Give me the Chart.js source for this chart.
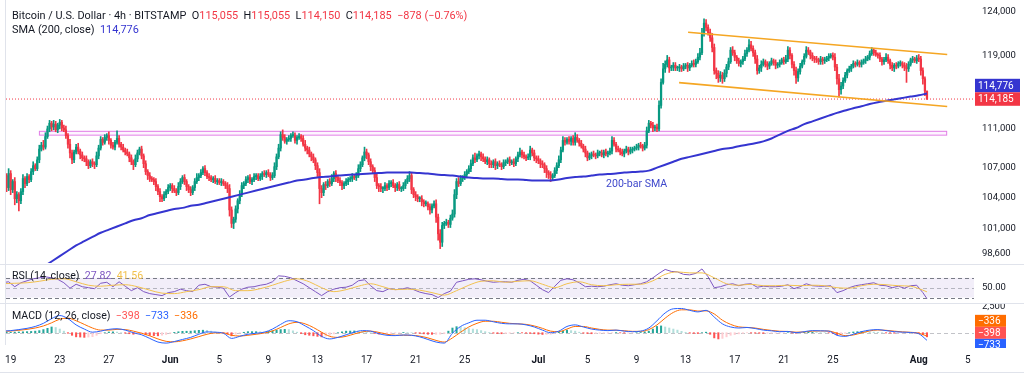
<!DOCTYPE html>
<html><head><meta charset="utf-8">
<script src="https://cdn.jsdelivr.net/npm/chart.js@4/dist/chart.umd.min.js"></script>
<style>
html,body{margin:0;padding:0;background:#fff;}
#wrap{position:relative;width:1024px;height:377px;overflow:hidden;font-family:Roboto,"Noto Sans",sans-serif;color:#131722;}
.cv{position:absolute;left:0;}
.txt{position:absolute;white-space:nowrap;font-size:10.6px;line-height:12px;}
.hdr{font-size:10.9px;}
.sep{position:absolute;left:0;width:1024px;height:1px;background:#e0e3eb;}
.r{color:#f23645}
</style></head><body>
<div id="wrap">
  <canvas id="cMain" class="cv" style="top:0" width="1024" height="264"></canvas>
  <canvas id="cRsi" class="cv" style="top:264px" width="1024" height="39"></canvas>
  <canvas id="cMacd" class="cv" style="top:303px" width="1024" height="74"></canvas>
  <div class="sep" style="top:264px"></div>
  <div class="sep" style="top:303px"></div>
  <div class="sep" style="top:372px"></div>
  <div class="sep" style="top:0;left:5px;width:1px;height:345px"></div>
  <div class="txt hdr" style="left:12px;top:10px">Bitcoin / U.S. Dollar · 4h · BITSTAMP&nbsp; O<span class="r">115,055</span>&nbsp; H<span class="r">115,055</span>&nbsp; L<span class="r">114,150</span>&nbsp; C<span class="r">114,185</span>&nbsp; <span class="r">−878 (−0.76%)</span></div>
  <div class="txt hdr" style="left:12px;top:24px">SMA (200, close)&nbsp; <span style="color:#3535d0">114,776</span></div>
  <div class="txt" style="left:606px;top:178px;color:#3f48cc">200-bar SMA</div>
  <div class="txt" style="left:12px;top:270px">RSI (14, close)&nbsp; <span style="color:#7e57c2">27.82</span>&nbsp; <span style="color:#f2c14e">41.56</span></div>
  <div class="txt" style="left:12px;top:310px">MACD (12, 26, close)&nbsp; <span style="color:#ff5252">−398</span>&nbsp; <span style="color:#2962ff">−733</span>&nbsp; <span style="color:#ff6d00">−336</span></div>
</div>
<script>
// ---- price data (4h candles, thousands of USD), first bar = May 18 08:00 ----
const firstOpenK = 105.0;
const closeK = [
105.4,106.2,105.0,106.4,104.8,105.6,103.9,104.3,103.7,104.6,
105.9,105.4,106.1,105.8,106.6,107.2,106.9,107.8,108.9,109.3,
109.1,110.2,111.0,111.6,111.2,111.5,110.9,111.4,111.7,111.1,
110.9,110.3,109.4,108.5,107.8,108.6,109.1,108.7,108.3,108.0,
107.9,107.6,107.2,107.6,107.4,107.3,108.2,109.0,109.9,109.6,
110.1,110.3,109.8,109.3,109.1,109.6,110.0,109.4,109.1,108.8,
108.6,108.4,108.0,107.6,107.3,107.9,108.5,108.9,108.2,107.4,
106.6,106.2,105.9,105.8,105.6,105.1,104.6,104.1,103.9,104.3,
104.6,105.0,105.2,104.9,104.7,104.5,105.1,105.6,106.0,105.6,
105.1,104.8,104.5,105.0,105.6,106.0,106.2,106.5,106.9,106.5,
106.1,106.0,105.8,105.9,105.6,105.7,105.5,105.6,105.4,105.2,
104.9,102.8,101.5,101.9,102.9,103.7,104.3,105.2,105.4,105.8,
106.0,105.6,105.8,106.1,106.2,105.9,106.1,106.4,106.3,106.5,
106.3,106.0,106.2,107.1,108.1,109.0,110.4,110.1,109.7,109.9,
110.0,110.3,110.3,109.8,110.1,110.2,110.0,109.4,109.0,108.8,
108.4,108.1,107.8,107.2,106.5,104.9,104.5,105.3,105.2,105.6,
105.4,105.9,106.4,106.0,105.7,105.5,105.2,105.4,105.6,105.8,
105.9,106.1,106.0,106.2,106.9,107.3,108.0,108.6,108.3,107.6,
107.1,106.7,106.0,105.2,105.1,104.9,104.9,105.2,105.0,105.4,
105.5,105.2,105.0,105.3,104.9,104.9,105.2,105.6,105.9,106.2,
104.8,104.3,104.1,103.9,103.9,103.6,103.4,103.4,103.1,102.8,
103.2,103.4,102.1,100.5,99.7,101.3,101.5,101.6,101.4,102.0,
102.4,104.3,105.6,105.4,105.9,106.0,106.3,106.6,106.9,107.4,
108.0,107.8,108.2,108.4,108.1,107.9,107.6,107.8,107.4,107.3,
107.6,107.2,107.4,107.3,107.1,107.5,107.6,107.8,107.5,107.6,
107.4,107.9,108.3,108.6,108.3,108.1,108.0,108.1,108.8,108.5,
108.0,107.9,107.7,107.4,107.3,106.9,106.5,106.3,106.0,106.2,
106.7,107.2,107.8,108.8,109.8,109.6,109.9,109.7,110.0,109.6,
110.1,109.8,109.5,109.2,108.9,108.5,108.0,108.2,108.4,108.3,
108.2,108.5,108.5,108.3,108.6,108.4,108.5,108.7,109.8,109.4,
108.9,108.8,108.6,108.4,108.7,108.9,108.6,108.8,108.9,109.0,
109.1,109.3,109.2,109.0,109.3,110.8,111.6,111.4,111.1,111.2,
111.0,113.5,116.0,117.5,118.0,118.5,117.6,117.7,117.9,117.6,
117.6,117.7,117.5,117.8,117.9,117.6,117.9,118.1,118.0,118.3,
118.8,119.3,121.5,122.7,122.2,121.6,121.0,119.9,117.3,117.0,
116.5,116.8,116.4,117.0,117.7,118.3,119.6,119.3,118.8,118.4,
118.1,118.3,118.6,119.2,119.6,120.2,119.8,119.3,118.6,117.3,
117.6,118.0,118.3,118.0,117.8,118.1,118.4,118.2,117.9,118.0,
118.2,118.5,118.3,118.6,119.6,119.0,118.0,117.3,116.5,117.2,
117.8,118.3,118.9,119.6,119.4,119.0,118.7,118.6,118.5,118.3,
118.6,118.4,118.5,118.7,118.9,119.0,118.8,117.7,116.4,115.2,
115.6,116.2,116.8,117.3,117.5,117.8,118.1,118.0,118.2,118.0,
118.2,118.4,118.6,118.8,119.2,119.6,119.3,119.1,119.0,118.6,
118.3,118.5,118.8,118.4,117.9,117.6,117.9,117.8,118.1,118.1,
117.9,117.7,117.5,118.0,118.5,118.6,118.4,118.7,118.6,117.3,
116.4,115.055,114.185];
// wick above / below the body, in $100
const wickUp = [
3,4,2,5,3,2,4,3,2,3, 4,2,3,2,3,4,2,3,4,3, 5,4,3,3,2,4,3,2,3,2, 3,4,2,5,3,2,3,4,2,3,
2,3,2,2,3,2,4,3,3,2, 3,2,4,2,3,2,8,3,2,3, 2,3,2,3,2,4,3,2,3,2, 3,2,3,2,2,3,2,3,2,3,
2,3,2,2,3,2,4,3,2,3, 2,2,3,2,3,4,2,3,2,3, 2,3,2,2,3,2,2,3,2,2, 3,4,3,2,3,2,4,3,2,3,
2,3,2,3,2,2,3,2,3,2, 3,2,3,4,3,4,3,5,3,2, 3,2,4,3,2,3,2,3,4,2, 3,2,3,2,3,4,3,2,3,2,
3,4,2,3,2,3,2,2,3,2, 2,3,2,3,4,3,2,5,3,2, 3,2,3,4,2,3,2,3,2,3, 2,3,2,2,3,2,3,2,3,4,
3,2,3,2,2,3,2,3,2,3, 2,3,4,3,4,3,2,3,2,3, 4,5,3,4,3,2,3,2,3,4, 3,5,2,3,2,3,2,3,2,3,
2,3,2,3,2,3,2,2,3,2, 3,2,3,4,2,3,2,3,4,2, 3,2,3,2,3,2,3,2,3,2, 3,3,4,3,4,3,2,3,2,3,
5,3,2,3,2,3,2,3,2,3, 2,3,2,3,2,3,2,3,4,3, 2,3,2,3,2,3,2,3,2,2, 3,2,3,2,3,4,3,2,3,2,
3,5,4,6,4,5,3,2,3,3, 2,3,2,3,2,3,2,3,4,3, 4,5,6,5,4,3,4,5,4,3, 3,4,3,4,3,4,3,4,3,2,
3,2,3,4,3,6,4,3,3,4, 3,4,3,2,3,2,3,2,3,2, 3,2,3,4,4,3,2,3,4,3, 3,2,3,4,3,2,3,2,3,2,
3,2,3,2,3,2,3,4,3,5, 4,3,3,2,3,2,3,2,3,2, 3,2,3,2,3,3,2,3,2,3, 2,3,4,3,2,3,2,3,2,3,
2,3,4,3,2,3,2,3,4,3, 3,2,0];
const wickDn = [
3,2,4,3,5,3,6,4,10,3, 3,4,2,3,2,3,2,2,3,2, 3,2,2,3,4,3,2,3,4,3, 2,3,4,5,4,3,2,3,4,3,
3,4,3,2,3,4,2,3,2,3, 2,3,4,3,2,3,2,3,3,2, 3,2,4,3,5,2,3,2,3,4, 3,4,3,2,3,4,3,5,3,2,
3,2,3,4,2,3,2,3,2,3, 4,3,3,2,3,2,3,2,2,3, 2,3,2,3,2,3,2,3,2,3, 4,6,4,5,3,4,3,2,3,2,
3,2,3,2,3,2,2,3,2,3, 2,3,2,2,3,2,3,3,2,3, 2,3,2,3,4,2,3,2,3,4, 3,4,3,4,4,15,5,3,4,2,
3,2,3,4,2,3,4,3,2,3, 2,3,2,3,2,3,2,3,4,3, 4,3,4,3,5,3,4,2,3,2, 3,2,4,3,2,3,2,3,2,3,
4,3,4,3,3,4,3,2,3,4, 3,2,5,6,6,4,3,2,3,3, 2,3,4,3,2,3,2,3,2,3, 2,3,2,3,4,3,2,3,4,3,
3,4,3,2,3,2,3,2,3,2, 3,2,3,2,3,2,3,2,3,3, 3,4,3,4,3,4,5,4,4,3, 2,3,2,3,2,3,2,3,4,3,
3,2,3,2,3,4,3,2,3,2, 3,2,3,2,3,2,3,2,3,2, 3,2,3,2,3,2,3,2,3,2, 2,3,2,3,2,3,2,3,4,3,
3,2,3,2,4,3,5,3,4,3, 3,4,3,2,3,4,3,2,3,3, 2,3,2,3,4,3,4,5,4,6, 5,4,5,3,4,3,2,3,4,3,
3,4,3,2,3,2,3,4,5,4, 3,4,2,3,4,3,2,3,4,3, 3,2,3,2,3,4,4,5,6,4, 3,2,3,2,3,4,3,4,3,3,
3,4,3,2,3,2,3,4,6,8, 5,3,2,3,2,3,2,3,2,3, 3,2,3,2,3,2,3,2,3,3, 4,3,2,3,4,3,4,3,2,3,
3,4,15,3,2,3,2,3,3,5, 6,5,0.35];
// 200-bar SMA, thousands, every 4th bar
const smaK = [
95.1,95.5,96.0,96.4,96.9,97.4,97.9,98.4,98.9,99.4,
99.8,100.2,100.6,100.9,101.2,101.5,101.8,102.0,102.3,102.5,
102.7,102.9,103.0,103.2,103.3,103.5,103.7,103.9,104.1,104.3,
104.5,104.7,104.9,105.1,105.3,105.5,105.7,105.8,105.95,106.05,
106.1,106.2,106.25,106.3,106.35,106.4,106.45,106.5,106.5,106.5,
106.5,106.45,106.4,106.3,106.25,106.2,106.1,106.0,105.95,105.9,
105.9,105.85,105.8,105.8,105.75,105.7,105.7,105.7,105.8,105.95,
106.05,106.1,106.2,106.3,106.35,106.4,106.5,106.55,106.6,106.7,
107.0,107.3,107.6,107.9,108.1,108.3,108.5,108.7,108.9,109.0,
109.2,109.35,109.5,109.7,110.0,110.4,110.8,111.1,111.5,111.8,
112.1,112.4,112.7,112.95,113.2,113.4,113.65,113.85,114.0,114.15,
114.3,114.45,114.6,114.776];
// RSI(14), every 3rd bar, plus last bar
const rsi = [
60,62,52,60,64,68,70,72,70,67, 60,49,57,52,50,48,59,61,52,62,
53,44,50,42,38,36,34,40,42,47, 44,42,55,57,52,51,49,31,40,47,
51,52,55,57,62,74,73,70,64,58, 50,42,34,42,47,50,51,55,64,66,
54,44,42,48,46,47,50,46,41,38, 36,30,38,43,61,64,67,68,66,63,
61,62,62,61,65,67,64,55,46,40, 53,65,68,66,60,52,53,52,53,56,
58,55,54,56,58,62,70,79,87,83, 82,77,76,79,88,72,50,52,56,58,
54,57,58,51,53,52,52,53,56,48, 52,58,54,53,53,54,40,44,50,54,
56,58,60,55,54,50,53,49,54,55, 40];
const rsiLast = 27.82;
// RSI-based MA, every 6th bar, plus last bar
const rsiMa = [
58,59,60,63,67,68,62,55,53,55, 56,52,45,39,38,42,46,52,52,44,
44,48,55,63,68,62,50,42,46,53, 58,52,46,47,45,40,35,44,55,63,
64,61,63,64,57,50,58,62,56,54, 56,57,57,64,77,82,80,80,70,58,
55,57,54,54,55,54,55,54,50,49, 54,57,56,54,53,45];
const rsiMaLast = 41.56;
// MACD(12,26) line and signal, every 4th bar
const macd = [
150,200,300,420,600,900,1350,1650,1350,750,
350,50,150,320,380,250,0,-200,-550,-900,
-1000,-850,-650,-450,-150,80,50,-50,-550,-350,
-150,-50,50,350,800,1150,1050,650,200,-350,
-600,-450,-200,50,200,150,-100,-250,-280,-220,
-250,-400,-650,-900,-1000,-50,600,950,1200,1200,
1050,900,850,850,750,550,250,0,150,600,
750,550,350,250,200,250,150,100,150,450,
1150,1900,2300,2330,2150,2000,2150,1500,850,550,
450,500,400,250,180,100,120,0,100,200,
180,150,-250,-350,-150,100,250,300,200,100,
50,20,-100,-733];
const signal = [
120,160,230,320,450,650,950,1300,1400,1150,
800,450,250,250,320,300,150,-50,-300,-600,
-830,-880,-780,-600,-380,-150,-20,-20,-250,-320,
-250,-150,-30,170,500,850,1000,850,500,50,
-350,-450,-350,-120,80,150,30,-150,-240,-240,
-250,-330,-500,-740,-900,-500,50,550,900,1100,
1100,1000,900,850,800,650,420,150,100,350,
600,600,450,320,250,240,190,130,130,300,
750,1400,1950,2200,2200,2080,2100,1800,1200,800,
560,510,450,320,220,140,120,50,70,150,
170,160,-50,-280,-220,-20,170,260,230,150,
80,40,-40,-336];
// MACD histogram, every 2nd bar
const hist = [
30,35,40,55,70,85,100,120,150,200, 300,420,550,500,350,150,-50,-250,-400,-420,
-450,-420,-380,-250,-100,0,70,80,60,0, -50,-100,-150,-150,-150,-200,-250,-280,-300,-240,
-170,-70,30,90,130,140,150,190,230,240, 230,150,70,20,-30,-150,-300,-150,-30,40,
100,100,100,90,80,120,180,250,300,320, 300,180,50,-80,-200,-250,-300,-350,-400,-330,
-250,-120,0,80,150,160,170,150,120,60, 0,-70,-130,-120,-100,-70,-40,-10,20,10,
0,-40,-70,-110,-150,-160,-160,-140,-100,150, 450,580,550,480,400,350,300,200,100,20,
-50,-80,-100,-80,-50,-20,0,-20,-50,-80, -100,-140,-170,-160,-150,-50,50,150,250,200,
150,50,-50,-80,-100,-80,-70,-60,-50,-20, 10,-20,-40,-35,-30,0,20,80,150,350,
600,650,550,450,350,250,130,40,-50,-70, -80,0,50,-150,-500,-600,-550,-400,-250,-180,
-110,-60,-10,-30,-50,-60,-70,-55,-40,-40, -40,-20,0,-30,-50,-10,30,40,50,30,
10,0,-10,-80,-200,-150,-70,0,70,100, 120,100,80,60,40,0,-30,-40,-50,-40,
-30,-25,-20,-40,-60,-200,-398];
// axes
const priceTicks = [124000,119000,111000,107000,104000,101000,98600];
const rsiTicks = [50];
const macdTicks = [2500];
const xTickIdx = [4,28,52,82,106,130,154,178,202,226,262,286,310,334,358,382,406,448,472];
const xTickLabels = ["19","23","27","Jun","5","9","13","17","21","25","Jul","5","9","13","17","21","25","Aug","5"];
// drawings
const channelUpper = [[335.2,121640],[461.9,119100]];
const channelLower = [[330.8,115970],[461.9,113380]];
const resistanceZone = [17.8,461.4,110400,110800];
const lastPrice = 114185;
const smaLast = 114776;

// ---------------- chart code ----------------
Chart.defaults.font.family = 'Roboto, "Noto Sans", sans-serif';
Chart.defaults.color = '#131722';
const UP = '#089981', DOWN = '#f23645', SMA_C = '#3535d0';
const X_MIN = 1.711, X_MAX = 475.0;
const AXIS_W = 50;
const N = closeK.length;
const openK = closeK.map((c,i)=> i===0 ? firstOpenK : closeK[i-1]);
const bodies = [], wicks = [], cols = [];
for (let i=0;i<N;i++){
  const o=openK[i]*1000, c=closeK[i]*1000;
  bodies.push({x:i, y:[o,c]});
  wicks.push({x:i, y:[Math.min(o,c)-wickDn[i]*100, Math.max(o,c)+wickUp[i]*100]});
  cols.push(closeK[i]>=openK[i]?UP:DOWN);
}
const smaPts = smaK.map((v,k)=>({x:k*4, y:v*1000}));
const xHidden = {type:'linear', min:X_MIN, max:X_MAX, offset:false, display:false};
const fixW = s => { s.width = AXIS_W; s.paddingTop = 0; s.paddingBottom = 0; };
const tickFont = {size:9.5};

function box(ctx, x, yc, w, h, bg, text){
  ctx.fillStyle = bg; ctx.fillRect(x, yc-h/2, w, h);
  ctx.fillStyle = '#fff'; ctx.font = '10px Roboto, "Noto Sans", sans-serif';
  ctx.textBaseline = 'middle'; ctx.textAlign = 'left';
  ctx.fillText(text, x+3, yc+0.5);
}
const fmt = v => v.toLocaleString('en-US');

const mainPlugin = {
  id:'mainDraw',
  beforeDatasetsDraw(chart){
    const {ctx, scales:{x,y}} = chart;
    const x1=x.getPixelForValue(resistanceZone[0]), x2=x.getPixelForValue(resistanceZone[1]);
    const y1=y.getPixelForValue(resistanceZone[3]), y2=y.getPixelForValue(resistanceZone[2]);
    ctx.save();
    ctx.fillStyle='rgba(224,64,251,0.06)'; ctx.fillRect(x1,y1,x2-x1,y2-y1);
    ctx.strokeStyle='#e17ce6'; ctx.lineWidth=1; ctx.strokeRect(x1+0.5,y1+0.5,x2-x1,y2-y1);
    ctx.restore();
  },
  afterDraw(chart){
    const {ctx, chartArea:a, scales:{y}} = chart;
    const pR = y.getPixelForValue(lastPrice);
    const pB = Math.min(y.getPixelForValue(smaLast), pR-13.5);
    ctx.save();
    box(ctx, a.right+1, pB, 45, 13.5, SMA_C, fmt(smaLast));
    box(ctx, a.right+1, pR, 45, 13.5, DOWN, fmt(lastPrice));
    ctx.restore();
  }
};

new Chart(document.getElementById('cMain'), {
  type:'bar',
  data:{datasets:[
    {type:'line', data:[{x:X_MIN,y:lastPrice},{x:X_MAX,y:lastPrice}], borderColor:DOWN, borderWidth:1, borderDash:[1,2], pointRadius:0, order:5},
    {type:'bar', data:wicks, backgroundColor:cols, barThickness:1, grouped:false, order:3},
    {type:'bar', data:bodies, backgroundColor:cols, barThickness:1.6, minBarLength:1, grouped:false, order:2},
    {type:'line', data:smaPts, borderColor:SMA_C, borderWidth:2, pointRadius:0, cubicInterpolationMode:'monotone', order:1},
    {type:'line', data:channelUpper.map(p=>({x:p[0],y:p[1]})), borderColor:'#f5a623', borderWidth:1.6, pointRadius:0, order:0},
    {type:'line', data:channelLower.map(p=>({x:p[0],y:p[1]})), borderColor:'#f5a623', borderWidth:1.6, pointRadius:0, order:0}
  ]},
  options:{
    responsive:false, animation:false, events:[],
    layout:{padding:{left:6, top:3, bottom:1, right:0}},
    plugins:{legend:{display:false}, tooltip:{enabled:false}},
    scales:{
      x:xHidden,
      y:{type:'logarithmic', position:'right', min:97760, max:125060,
         grid:{display:false, drawTicks:false}, border:{display:false},
         afterBuildTicks:s=>{s.ticks = priceTicks.map(v=>({value:v}));},
         afterFit:fixW,
         ticks:{padding:8, font:tickFont, color:'#131722', callback:v=>fmt(v)}}
    }
  },
  plugins:[mainPlugin]
});

// ---- RSI ----
const rsiPts = rsi.map((v,k)=>({x:k*3,y:v})).concat([{x:N-1,y:rsiLast}]);
const rsiMaPts = rsiMa.map((v,k)=>({x:k*6,y:v})).concat([{x:N-1,y:rsiMaLast}]);
const rsiPlugin = {
  id:'rsiBand',
  beforeDatasetsDraw(chart){
    const {ctx, chartArea:a, scales:{y}} = chart;
    const y70=y.getPixelForValue(70), y30=y.getPixelForValue(30), y50=y.getPixelForValue(50);
    ctx.save();
    ctx.fillStyle='rgba(126,87,194,0.1)'; ctx.fillRect(a.left,y70,a.right-a.left,y30-y70);
    ctx.setLineDash([4,3]); ctx.lineWidth=1;
    ctx.strokeStyle='#787b86';
    [y70,y30].forEach(p=>{ctx.beginPath();ctx.moveTo(a.left,Math.round(p)+0.5);ctx.lineTo(a.right,Math.round(p)+0.5);ctx.stroke();});
    ctx.strokeStyle='rgba(120,123,134,0.5)';
    ctx.beginPath();ctx.moveTo(a.left,Math.round(y50)+0.5);ctx.lineTo(a.right,Math.round(y50)+0.5);ctx.stroke();
    ctx.restore();
  }
};
new Chart(document.getElementById('cRsi'), {
  type:'line',
  data:{datasets:[
    {data:rsiMaPts, borderColor:'#f2c14e', borderWidth:1, pointRadius:0, cubicInterpolationMode:'monotone'},
    {data:rsiPts, borderColor:'#7e57c2', borderWidth:1, pointRadius:0}
  ]},
  options:{
    responsive:false, animation:false, events:[],
    layout:{padding:{left:6, top:0, bottom:0, right:0}},
    plugins:{legend:{display:false}, tooltip:{enabled:false}},
    scales:{
      x:xHidden,
      y:{type:'linear', position:'right', min:19, max:98,
         grid:{display:false, drawTicks:false}, border:{display:false},
         afterBuildTicks:s=>{s.ticks = rsiTicks.map(v=>({value:v}));},
         afterFit:fixW,
         ticks:{padding:8, font:tickFont, color:'#131722', callback:v=>v.toFixed(2)}}
    }
  },
  plugins:[rsiPlugin]
});

// ---- MACD ----
const histPts = hist.map((v,k)=>({x:k*2,y:v}));
const histCols = hist.map((v,k)=>{
  const p = k>0 ? hist[k-1] : v;
  if (v>=0) return v>=p ? '#26a69a' : '#b2dfdb';
  return v<p ? '#ff5252' : '#ffcdd2';
});
const macdPlugin = {
  id:'macdDraw',
  beforeDatasetsDraw(chart){
    const {ctx, chartArea:a, scales:{y}} = chart;
    const p = Math.round(y.getPixelForValue(0))+0.5;
    ctx.save(); ctx.setLineDash([4,3]); ctx.strokeStyle='rgba(120,123,134,0.45)'; ctx.lineWidth=1;
    ctx.beginPath(); ctx.moveTo(a.left,p); ctx.lineTo(a.right,p); ctx.stroke(); ctx.restore();
  },
  afterDraw(chart){
    const {ctx, chartArea:a, scales:{y}} = chart;
    const ph = y.getPixelForValue(hist[hist.length-1]) - 4;
    ctx.save();
    ctx.beginPath(); ctx.rect(a.right, 0, 60, a.bottom+3); ctx.clip();
    box(ctx, a.right+1, ph-12, 31, 12, '#ff6d00', '−336');
    box(ctx, a.right+1, ph, 31, 12, '#ff5252', '−398');
    box(ctx, a.right+1, ph+12, 31, 12, '#2962ff', '−733');
    ctx.restore();
  }
};
new Chart(document.getElementById('cMacd'), {
  type:'bar',
  data:{datasets:[
    {type:'bar', data:histPts, backgroundColor:histCols, barThickness:1.4, grouped:false, order:3},
    {type:'line', data:signal.map((v,k)=>({x:k*4,y:v})), borderColor:'#ff6d00', borderWidth:1, pointRadius:0, cubicInterpolationMode:'monotone', order:2},
    {type:'line', data:macd.map((v,k)=>({x:k*4,y:v})), borderColor:'#2962ff', borderWidth:1, pointRadius:0, cubicInterpolationMode:'monotone', order:1}
  ]},
  options:{
    responsive:false, animation:false, events:[],
    layout:{padding:{left:6, top:0, bottom:0, right:0}},
    plugins:{legend:{display:false}, tooltip:{enabled:false}},
    scales:{
      x:{type:'linear', min:X_MIN, max:X_MAX, offset:false, position:'bottom',
         grid:{display:false, drawTicks:false}, border:{display:false},
         afterBuildTicks:s=>{s.ticks = xTickIdx.map(v=>({value:v}));},
         afterFit:s=>{s.height = 32; s.paddingLeft = 0; s.paddingRight = 0;},
         ticks:{autoSkip:false, maxRotation:0, minRotation:0, padding:9, color:'#131722',
                font:c=>({size:10, weight: ['Jun','Jul','Aug'].includes(xTickLabels[c.index]) ? 'bold':'normal'}),
                callback:(v,k)=>xTickLabels[k]}},
      y:{type:'linear', position:'right', min:-1183, max:2856,
         grid:{display:false, drawTicks:false}, border:{display:false},
         afterBuildTicks:s=>{s.ticks = macdTicks.map(v=>({value:v}));},
         afterFit:fixW,
         ticks:{padding:8, font:tickFont, color:'#131722', callback:v=>fmt(v)}}
    }
  },
  plugins:[macdPlugin]
});
</script>
</body></html>
